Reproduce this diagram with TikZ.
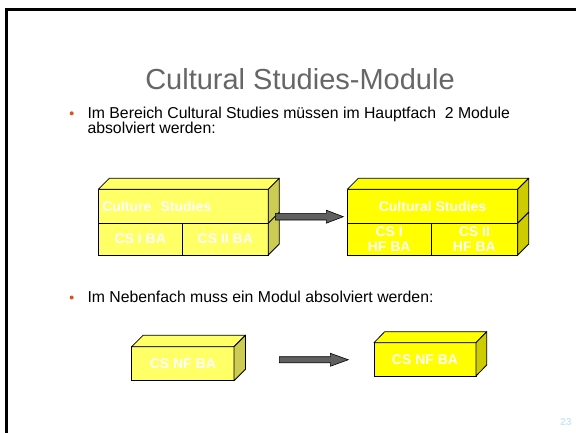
\documentclass[tikz,border=0pt]{standalone}
\usepackage{fontspec}
\setmainfont{Liberation Sans}
\usetikzlibrary{calc}
\definecolor{ylight}{RGB}{255,255,102}
\definecolor{ylightside}{RGB}{204,204,82}
\definecolor{ybright}{RGB}{255,255,0}
\definecolor{ybrightside}{RGB}{204,204,0}
\definecolor{titlegray}{RGB}{102,102,102}
\definecolor{arrowgray}{RGB}{96,96,96}
\definecolor{bulletorange}{RGB}{224,80,32}
\definecolor{pagenum}{RGB}{204,229,255}
\begin{document}
\begin{tikzpicture}[x=1pt,y=-1pt,
  face/.style={draw=black, line width=0.8pt, inner sep=0pt, outer sep=0pt,
    anchor=north west, text=white, align=center,
    font=\fontsize{14}{15}\selectfont\bfseries},
  facepath/.style={draw=black, line width=0.8pt, line join=round},
  arrowbody/.style={draw=black, line width=0.6pt, fill=arrowgray, line join=miter},
  bodytext/.style={anchor=base west, inner sep=0pt, font=\fontsize{15.8}{15}\selectfont},
  bulletdot/.style={circle, fill=bulletorange, minimum size=4pt, inner sep=0pt}]
\useasboundingbox (0,0) rectangle (576,433);
% frame
\draw[line width=3pt, line join=miter] (6.5,433) -- (6.5,9.5) -- (576,9.5);
% title and texts
\node[anchor=base, inner sep=0pt, text=titlegray, font=\fontsize{29}{29}\selectfont] (title) at (300,90) {Cultural Studies-Module};
\node[bulletdot] (d1) at (71.7,113.3) {};
\node[bodytext] (b1a) at (87.3,118.3) {Im Bereich Cultural Studies müssen im Hauptfach\ \ 2 Module};
\node[bodytext] (b1b) at (87.3,133.2) {absolviert werden:};
\node[bulletdot] (d2) at (71.7,297.5) {};
\node[bodytext] (b2) at (87.3,302.3) {Im Nebenfach muss ein Modul absolviert werden:};
\node[font=\fontsize{10}{10}\selectfont\bfseries, text=pagenum, inner sep=0pt] (pg) at (566,422.5) {23};
% left big box (Hauptfach, before)
\node[face, fill=ylight, minimum width=170pt, minimum height=34pt, inner xsep=4pt, text width=162pt, align=left] (cs) at (98.3,189.3) {Culture\ \ Studies};
\node[face, fill=ylight, minimum width=84pt, minimum height=31.7pt] (csi) at (98.3,223.3) {CS I BA};
\node[face, fill=ylight, minimum width=86pt, minimum height=31.7pt] (csii) at (182.3,223.3) {CS II BA};
\draw[facepath, fill=ylight] (cs.north west) -- ++(11,-11) -- ([shift={(11,-11)}]cs.north east) -- (cs.north east) -- cycle;
\draw[facepath, fill=ylightside] (cs.north east) -- ++(11,-11) -- ([shift={(11,-11)}]cs.south east) -- (cs.south east) -- cycle;
\draw[facepath, fill=ylightside] (csii.north east) -- ++(11,-11) -- ([shift={(11,-11)}]csii.south east) -- (csii.south east) -- cycle;
% right big box (Hauptfach, after)
\node[face, fill=ybright, minimum width=170.4pt, minimum height=34pt] (cr) at (347.3,189.3) {Cultural Studies};
\node[face, fill=ybright, minimum width=83.7pt, minimum height=31.7pt] (cri) at (347.3,223.3) {CS I\\HF BA};
\node[face, fill=ybright, minimum width=86.7pt, minimum height=31.7pt] (crii) at (431,223.3) {CS II\\HF BA};
\draw[facepath, fill=ybright] (cr.north west) -- ++(11,-11) -- ([shift={(11,-11)}]cr.north east) -- (cr.north east) -- cycle;
\draw[facepath, fill=ybrightside] (cr.north east) -- ++(11,-11) -- ([shift={(11,-11)}]cr.south east) -- (cr.south east) -- cycle;
\draw[facepath, fill=ybrightside] (crii.north east) -- ++(11,-11) -- ([shift={(11,-11)}]crii.south east) -- (crii.south east) -- cycle;
% small boxes (Nebenfach)
\node[face, fill=ylight, minimum width=102.3pt, minimum height=34pt] (nfl) at (131.7,346.7) {CS NF BA};
\draw[facepath, fill=ylight] (nfl.north west) -- ++(11.5,-11.5) -- ([shift={(11.5,-11.5)}]nfl.north east) -- (nfl.north east) -- cycle;
\draw[facepath, fill=ylightside] (nfl.north east) -- ++(11.5,-11.5) -- ([shift={(11.5,-11.5)}]nfl.south east) -- (nfl.south east) -- cycle;
\node[face, fill=ybright, minimum width=102pt, minimum height=33.3pt] (nfr) at (374,342.7) {CS NF BA};
\draw[facepath, fill=ybright] (nfr.north west) -- ++(10.7,-11) -- ([shift={(10.7,-11)}]nfr.north east) -- (nfr.north east) -- cycle;
\draw[facepath, fill=ybrightside] (nfr.north east) -- ++(10.7,-11) -- ([shift={(10.7,-11)}]nfr.south east) -- (nfr.south east) -- cycle;
% arrows
\coordinate (a1s) at ([shift={(7,-6.6)}]cs.south east);
\coordinate (a1e) at ([shift={(-4,-6.6)}]cr.south west);
\draw[arrowbody] ($(a1s)+(0,-3.3)$) -- ($(a1e)+(-17,-3.3)$) -- ($(a1e)+(-17,-6.5)$) -- (a1e)
  -- ($(a1e)+(-17,6.5)$) -- ($(a1e)+(-17,3.3)$) -- ($(a1s)+(0,3.3)$) -- cycle;
\coordinate (a2s) at ($(nfl.east)+(45.3,-4)$);
\coordinate (a2e) at ($(nfr.west)+(-25.7,0.4)$);
\draw[arrowbody] ($(a2s)+(0,-3)$) -- ($(a2e)+(-18,-3)$) -- ($(a2e)+(-18,-6.5)$) -- (a2e)
  -- ($(a2e)+(-18,6.5)$) -- ($(a2e)+(-18,3)$) -- ($(a2s)+(0,3)$) -- cycle;
\end{tikzpicture}
\end{document}
